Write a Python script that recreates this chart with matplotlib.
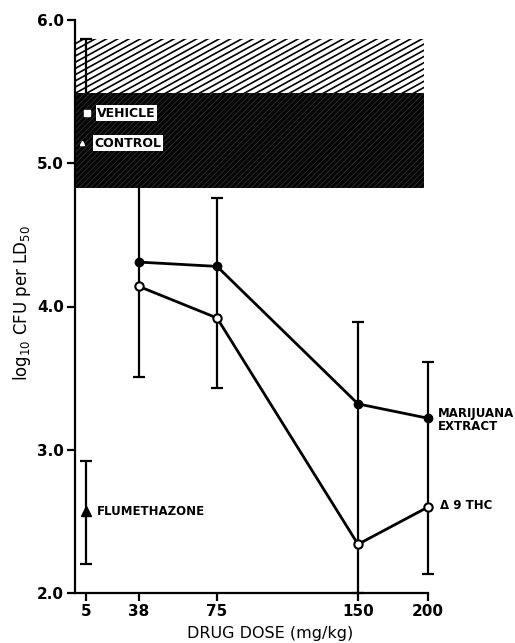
import numpy as np
import matplotlib
matplotlib.use("Agg")
import matplotlib.pyplot as plt
from matplotlib.transforms import blended_transform_factory
from matplotlib.patches import Rectangle
from matplotlib.collections import LineCollection

# ---- data ----
doses = [38, 75, 150, 200]
marijuana = [4.31, 4.28, 3.32, 3.22]
thc = [4.14, 3.92, 2.34, 2.60]
err_low = [3.51, 3.43, 2.00, 2.13]
err_high = [5.10, 4.76, 3.89, 3.61]

flume_dose = [5]
flume_val = [2.57]
flume_low = [2.20]
flume_high = [2.92]

vehicle_dose = [5]
vehicle_val = [5.35]
control_val = [5.14]
ctrl_err_low = [4.90]
ctrl_err_high = [5.87]

control_band = (4.83, 5.87)
vehicle_band = (4.83, 5.49)

xticks = [5, 38, 75, 150, 200]
yticks = [2.0, 3.0, 4.0, 5.0, 6.0]

# ---- piecewise axis scale (dose -> axis position) ----
knot_dose = [0, 5, 38, 75, 150, 200]
knot_pos = [0, 11, 64, 142, 283, 353]

def fwd(x):
    return np.interp(x, knot_dose, knot_pos, left=-1e3, right=1e3)

def inv(p):
    return np.interp(p, knot_pos, knot_dose)

plt.rcParams['font.family'] = ['DejaVu Sans']
plt.rcParams['hatch.linewidth'] = 0.6

fig = plt.figure(figsize=(5.15, 6.43), dpi=100)
ax = fig.add_axes([75/515, 50/643, 353/515, 573/643])
ax.set_xscale('function', functions=(fwd, inv))
ax.set_xlim(0, 200)
ax.set_ylim(2.0, 6.0)
bt = blended_transform_factory(ax.transAxes, ax.transData)

band_w = 0.989
# control band: shallow diagonal hatch drawn as clipped lines
rect = Rectangle((0, control_band[0]), band_w, control_band[1] - control_band[0],
                 transform=bt, facecolor='white', edgecolor='none', zorder=1)
ax.add_patch(rect)
W, H = 353.0, 573.0
slope = 0.55 * W / H
spacing = 6.2 / H
segs = []
k0 = -1.0
n = int(2.0 / spacing)
for i in range(n):
    y0 = k0 + i * spacing
    segs.append([(0, y0), (1, y0 + slope)])
lc = LineCollection(segs, colors='black', linewidths=1.2, transform=ax.transAxes, zorder=1.1)
ax.add_collection(lc, autolim=False)
lc.set_clip_path(rect)

# vehicle band: dark stipple
ax.add_patch(Rectangle((0, vehicle_band[0]), band_w, vehicle_band[1] - vehicle_band[0],
                       transform=bt, facecolor='#050505', edgecolor='#2e2e2e',
                       hatch='//////', linewidth=0, zorder=2))

lw = 1.6
ebkw = dict(fmt='none', ecolor='black', elinewidth=lw, capsize=4, capthick=lw)
cmid = np.add(ctrl_err_low, ctrl_err_high) / 2
ax.errorbar(vehicle_dose, cmid, yerr=[cmid - np.array(ctrl_err_low), np.array(ctrl_err_high) - cmid],
            zorder=1.5, **ebkw)

mid = np.add(err_low, err_high) / 2
eb = ax.errorbar(doses, mid, yerr=[mid - np.array(err_low), np.array(err_high) - mid],
                 zorder=1.5, **ebkw)
for art in eb.lines[1] + eb.lines[2]:
    art.set_clip_on(False)

fmid = np.add(flume_low, flume_high) / 2
ax.errorbar(flume_dose, fmid, yerr=[fmid - np.array(flume_low), np.array(flume_high) - fmid],
            zorder=3, **ebkw)
ax.plot(flume_dose, flume_val, marker='^', color='black', markersize=7, linestyle='none', zorder=4)

ax.plot(doses, marijuana, color='black', lw=2, marker='o', markersize=6,
        markerfacecolor='black', zorder=4, clip_on=False)
ax.plot(doses, thc, color='black', lw=2, marker='o', markersize=6,
        markerfacecolor='white', markeredgewidth=1.5, zorder=4, clip_on=False)

# vehicle/control markers
ax.plot([5.6], vehicle_val, marker='s', color='white', markersize=4, linestyle='none', zorder=5)
ax.plot([3.2], control_val, marker='^', color='white', markersize=3, linestyle='none', zorder=5)

tb = dict(facecolor='white', edgecolor='none', pad=1.0)
ax.text(12.0, 5.35, 'VEHICLE', fontsize=9, fontweight='bold', va='center',
        bbox=tb, zorder=6)
ax.text(10.2, 5.14, 'CONTROL', fontsize=9, fontweight='bold', va='center',
        bbox=tb, zorder=6)

ax.text(11.8, 2.57, 'FLUMETHAZONE', fontsize=8.5, fontweight='bold', va='center')
ax.text(1.028, 3.21, 'MARIJUANA\nEXTRACT', fontsize=8.5, fontweight='bold', va='center',
        linespacing=1.0, transform=bt, clip_on=False)
ax.text(1.033, 2.61, '\u0394 9 THC', fontsize=8.5, fontweight='bold', va='center',
        transform=bt, clip_on=False)

for s in ['top', 'right']:
    ax.spines[s].set_visible(False)
ax.spines['left'].set_linewidth(1.6)
ax.spines['bottom'].set_linewidth(1.6)
ax.set_xticks(xticks)
ax.set_xticklabels([str(t) for t in xticks], fontsize=11, fontweight='bold')
ax.set_yticks(yticks)
ax.set_yticklabels(['%.1f' % t for t in yticks], fontsize=11, fontweight='bold')
ax.tick_params(axis='both', direction='out', length=6, width=1.6, pad=2)
ax.minorticks_off()

ax.set_xlabel('DRUG DOSE (mg/kg)', fontsize=11.5)
ax.xaxis.set_label_coords(0.552, -0.058)
ax.set_ylabel('log$_{10}$ CFU per LD$_{50}$', fontsize=12)
ax.yaxis.set_label_coords(-0.12, 0.506)

fig.savefig('out.png', dpi=100)
